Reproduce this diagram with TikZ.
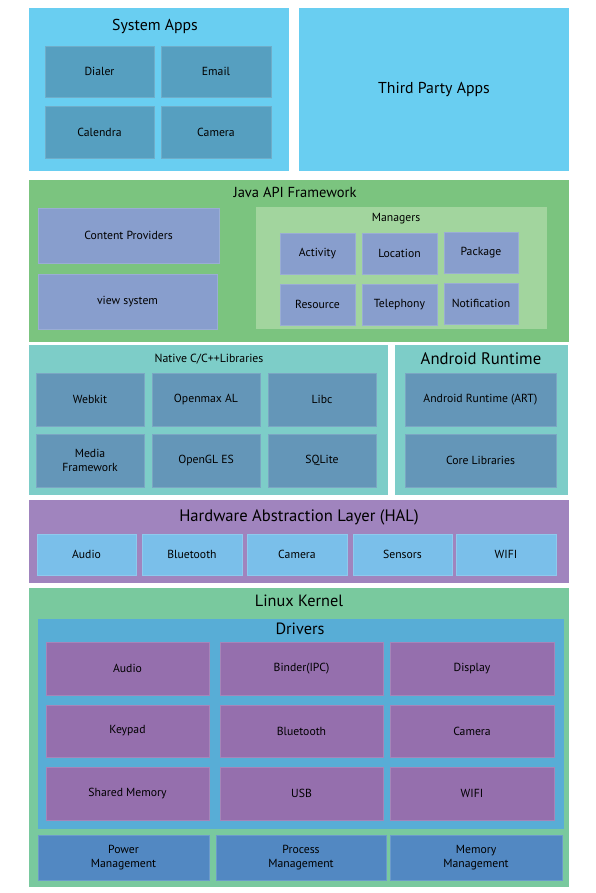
\documentclass[tikz,border=0pt]{standalone}
\usepackage{fontspec}
\setmainfont{PT Sans}
\definecolor{sysbg}{HTML}{69CEF1}
\definecolor{appbox}{HTML}{569FC0}
\definecolor{javabg}{HTML}{7BC47F}
\definecolor{cpbox}{HTML}{889ECD}
\definecolor{mgrbg}{HTML}{A2D59E}
\definecolor{nativebg}{HTML}{7DCDC8}
\definecolor{nbox}{HTML}{6496B8}
\definecolor{halbg}{HTML}{A084BE}
\definecolor{halbox}{HTML}{7ABFEA}
\definecolor{kernbg}{HTML}{79C99E}
\definecolor{drvbg}{HTML}{58ADD6}
\definecolor{drvbox}{HTML}{956FAD}
\definecolor{mgmt}{HTML}{5288C2}
\newcommand\bx[7]{\node[#1, minimum width={(#5-#3)*1pt}, minimum height={(#6-#4)*1pt}] (#2) at ({(#3+#5)/2},{(#4+#6)/2}) {#7};}
\tikzset{
  base/.style={inner sep=0pt, outer sep=0pt, rectangle, align=center, font=\fontsize{11.7}{13.8}\selectfont},
  layer/.style={base, fill=#1},
  item/.style={base, fill=#1, draw=#1!85!white, line width=0.6pt},
  ttl/.style={inner sep=0pt, font=\fontsize{#1}{#1}\selectfont},
}
\begin{document}
\begin{tikzpicture}[x=1pt,y=-1pt]
\useasboundingbox[fill=white] (0,0) rectangle (596,893);
% System apps
\bx{layer=sysbg}{sys}{29}{8}{289}{171}{}
\node[ttl=15.8] (systtl) at (155,26) {System Apps};
\bx{item=appbox}{dialer}{45}{46}{154}{97}{Dialer}
\bx{item=appbox}{email}{161}{46}{271}{97}{Email}
\bx{item=appbox}{calendra}{45}{106}{154}{158}{Calendra}
\bx{item=appbox}{camera}{161}{106}{271}{158}{Camera}
\bx{layer=sysbg, font=\fontsize{15.8}{17}\selectfont}{third}{299}{8}{569}{171}{Third Party Apps}
% Java API
\bx{layer=javabg}{java}{29}{180}{569}{342}{}
\node[ttl=14.5] (javattl) at (295,192) {Java API Framework};
\bx{item=cpbox}{cp}{38}{208}{219}{263}{Content Providers}
\bx{item=cpbox}{view}{38}{274}{217}{329}{view system}
\bx{layer=mgrbg}{mgr}{256}{207}{547}{329}{}
\node[ttl=11.7] (mgrttl) at (396,219) {Managers};
\bx{item=cpbox}{activity}{280}{233}{355}{274}{Activity}
\bx{item=cpbox}{location}{362}{233}{437}{274}{Location}
\bx{item=cpbox}{package}{444}{232}{518}{273}{Package}
\bx{item=cpbox}{resource}{280}{284}{355}{325}{Resource}
\bx{item=cpbox}{telephony}{362}{284}{437}{325}{Telephony}
\bx{item=cpbox}{notification}{444}{283}{518}{324}{Notification}
% Native
\bx{layer=nativebg}{native}{29}{345}{388}{495}{}
\node[ttl=11.8] (nativettl) at (209,359) {Native C/C++Libraries};
\bx{item=nbox}{webkit}{36}{373}{144}{426}{Webkit}
\bx{item=nbox}{openmax}{152}{373}{260}{426}{Openmax AL}
\bx{item=nbox}{libc}{268}{373}{376}{426}{Libc}
\bx{item=nbox}{media}{36}{434}{144}{487}{Media\\Framework}
\bx{item=nbox}{opengl}{152}{434}{260}{487}{OpenGL ES}
\bx{item=nbox}{sqlite}{268}{434}{376}{487}{SQLite}
\bx{layer=nativebg}{runtime}{395}{345}{568}{495}{}
\node[ttl=16.7] (runtimettl) at (481,359) {Android Runtime};
\bx{item=nbox}{art}{405}{373}{556}{426}{Android Runtime (ART)}
\bx{item=nbox}{core}{405}{434}{556}{487}{Core Libraries}
% HAL
\bx{layer=halbg}{hal}{29}{500}{569}{583}{}
\node[ttl=16.6] (haltitle) at (299,517) {Hardware Abstraction Layer (HAL)};
\bx{item=halbox}{haudio}{37}{534}{136}{575}{Audio}
\bx{item=halbox}{hbt}{142}{534}{242}{575}{Bluetooth}
\bx{item=halbox}{hcam}{247}{534}{347}{575}{Camera}
\bx{item=halbox}{hsens}{353}{534}{452}{575}{Sensors}
\bx{item=halbox}{hwifi}{456}{534}{556}{575}{WIFI}
% Kernel
\bx{layer=kernbg}{kernel}{29}{588}{569}{887}{}
\node[ttl=16.3] (kernttl) at (299,601) {Linux Kernel};
\bx{layer=drvbg}{drivers}{38}{619}{564}{829}{}
\node[ttl=16.3] (drvttl) at (300,629) {Drivers};
\bx{item=drvbox}{daudio}{46}{642}{209}{695}{Audio}
\bx{item=drvbox}{binder}{220}{642}{383}{695}{Binder(IPC)}
\bx{item=drvbox}{display}{390}{642}{554}{695}{Display}
\bx{item=drvbox}{keypad}{46}{705}{209}{757}{Keypad}
\bx{item=drvbox}{dbt}{220}{705}{383}{757}{Bluetooth}
\bx{item=drvbox}{dcam}{390}{705}{554}{757}{Camera}
\bx{item=drvbox}{shm}{46}{767}{209}{820}{Shared Memory}
\bx{item=drvbox}{usb}{220}{767}{383}{820}{USB}
\bx{item=drvbox}{dwifi}{390}{767}{554}{820}{WIFI}
\bx{item=mgmt}{power}{38}{835}{209}{880}{Power\\Management}
\bx{item=mgmt}{process}{216}{835}{386}{880}{Process\\Management}
\bx{item=mgmt}{memory}{390}{835}{562}{880}{Memory\\Management}
\end{tikzpicture}
\end{document}
